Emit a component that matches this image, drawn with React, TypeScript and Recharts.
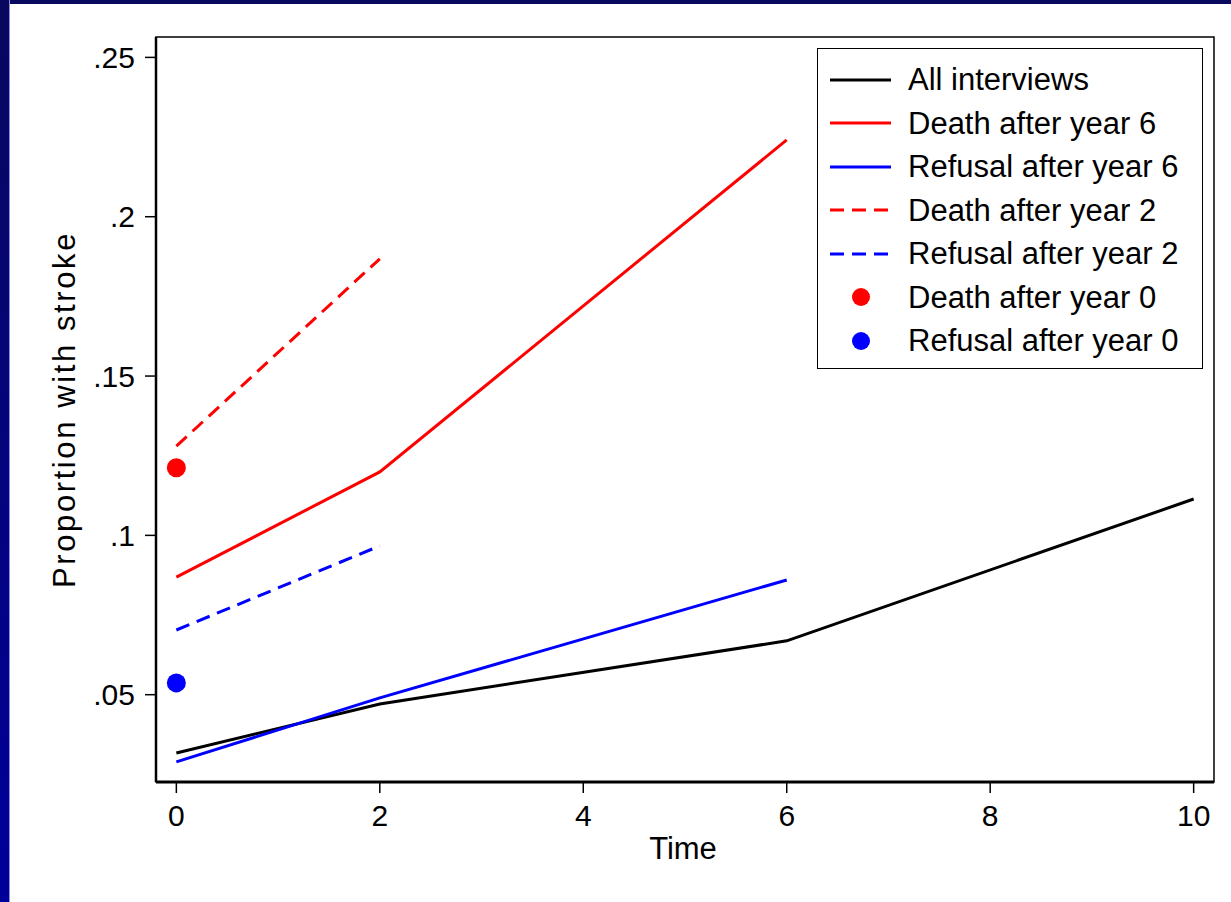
import React from "react";
import {
  ComposedChart,
  Line,
  XAxis,
  YAxis,
  ReferenceArea,
  Label,
} from "recharts";

const times = [0, 2, 6, 10];
const allInterviews = [0.0317, 0.0471, 0.0669, 0.1114];
const deathYear6 = [0.0869, 0.1199, 0.2241, null];
const refusalYear6 = [0.0289, 0.049, 0.086, null];
const deathYear2 = [0.128, 0.1868, null, null];
const refusalYear2 = [0.0703, 0.0967, null, null];
const deathYear0 = [0.1212, null, null, null];
const refusalYear0 = [0.0537, null, null, null];

const xTicks = [0, 2, 4, 6, 8, 10];
const yTicks = [0.05, 0.1, 0.15, 0.2, 0.25];
const xDomain: [number, number] = [-0.2, 10.2];
const yDomain: [number, number] = [0.0226, 0.2564];

const legendItems = [
  { label: "All interviews", color: "#000000", kind: "line" },
  { label: "Death after year 6", color: "#ff0000", kind: "line" },
  { label: "Refusal after year 6", color: "#0000ff", kind: "line" },
  { label: "Death after year 2", color: "#ff0000", kind: "dash" },
  { label: "Refusal after year 2", color: "#0000ff", kind: "dash" },
  { label: "Death after year 0", color: "#ff0000", kind: "dot" },
  { label: "Refusal after year 0", color: "#0000ff", kind: "dot" },
];

const data = times.map((t, i) => ({
  time: t,
  all: allInterviews[i],
  d6: deathYear6[i],
  r6: refusalYear6[i],
  d2: deathYear2[i],
  r2: refusalYear2[i],
  d0: deathYear0[i],
  r0: refusalYear0[i],
}));

const FONT = '"Liberation Sans", Arial, Helvetica, sans-serif';
const DASH = "14 8";

const fmtY = (v: number) => {
  const s = String(Number(v.toFixed(3)));
  return s.startsWith("0") ? s.slice(1) : s;
};

const LegendBox = () => (
  <div
    style={{
      position: "absolute",
      left: 817,
      top: 48,
      width: 386,
      height: 321,
      boxSizing: "border-box",
      border: "1.5px solid #000",
      background: "#fff",
      paddingTop: 9,
      fontFamily: FONT,
      fontSize: 31,
      color: "#000",
    }}
  >
    {legendItems.map((it) => (
      <div
        key={it.label}
        style={{ height: 43.5, display: "flex", alignItems: "center" }}
      >
        <svg width={90} height={30} style={{ flex: "none" }}>
          {it.kind === "dot" ? (
            <circle cx={43} cy={15} r={9} fill={it.color} />
          ) : (
            <line
              x1={12}
              x2={73}
              y1={15}
              y2={15}
              stroke={it.color}
              strokeWidth={3}
              strokeDasharray={it.kind === "dash" ? DASH : undefined}
            />
          )}
        </svg>
        <span style={{ whiteSpace: "nowrap", lineHeight: 1 }}>{it.label}</span>
      </div>
    ))}
  </div>
);

export default function App() {
  return (
    <div
      style={{
        position: "absolute",
        left: 0,
        top: 0,
        width: 1231,
        height: 902,
        background: "#fff",
        overflow: "hidden",
      }}
    >
      <div
        style={{
          position: "absolute",
          left: 0,
          top: 0,
          width: 1231,
          height: 4,
          background: "#08085e",
        }}
      />
      <div
        style={{
          position: "absolute",
          left: 0,
          top: 0,
          width: 9,
          height: 902,
          background: "linear-gradient(#08085e, #00009a)",
          borderRight: "1px solid #8c8ce0",
        }}
      />
      <div style={{ position: "absolute", left: 0, top: 0 }}>
        <ComposedChart
          width={1231}
          height={902}
          data={data}
          margin={{ top: 37, right: 17, bottom: 0, left: 0 }}
          style={{ fontFamily: FONT }}
        >
          <ReferenceArea
            x1={xDomain[0]}
            x2={xDomain[1]}
            y1={yDomain[0]}
            y2={yDomain[1]}
            fill="none"
            stroke="#000"
            strokeWidth={1.5}
            ifOverflow="visible"
          />
          <XAxis
            dataKey="time"
            type="number"
            domain={xDomain}
            ticks={xTicks}
            allowDataOverflow
            height={120}
            tickSize={11}
            tickMargin={12}
            axisLine={{ stroke: "#000", strokeWidth: 3 }}
            tickLine={{ stroke: "#000", strokeWidth: 1.5 }}
            tick={{ fill: "#000", fontSize: 30, fontFamily: FONT }}
          >
            <Label
              content={({ viewBox }: any) => (
                <text
                  x={viewBox.x + viewBox.width / 2 - 2}
                  y={viewBox.y + 66}
                  textAnchor="middle"
                  dominantBaseline="central"
                  fontSize={31}
                  fontFamily={FONT}
                  fill="#000"
                >
                  Time
                </text>
              )}
            />
          </XAxis>
          <YAxis
            type="number"
            domain={yDomain}
            ticks={yTicks}
            allowDataOverflow
            width={156}
            tickSize={11}
            tickMargin={10}
            tickFormatter={fmtY}
            axisLine={{ stroke: "#000", strokeWidth: 2.5 }}
            tickLine={{ stroke: "#000", strokeWidth: 1.5 }}
            tick={{ fill: "#000", fontSize: 30, fontFamily: FONT }}
          >
            <Label
              content={({ viewBox }: any) => {
                const cx = viewBox.x + 64;
                const cy = viewBox.y + viewBox.height / 2;
                return (
                  <text
                    x={cx}
                    y={cy}
                    transform={`rotate(-90 ${cx} ${cy})`}
                    textAnchor="middle"
                    dominantBaseline="central"
                    fontSize={31}
                    fontFamily={FONT}
                    letterSpacing={2.6}
                    fill="#000"
                  >
                    Proportion with stroke
                  </text>
                );
              }}
            />
          </YAxis>
          <Line dataKey="all" stroke="#000" strokeWidth={3} dot={false} isAnimationActive={false} />
          <Line dataKey="d6" stroke="#ff0000" strokeWidth={3} dot={false} isAnimationActive={false} />
          <Line dataKey="r6" stroke="#0000ff" strokeWidth={3} dot={false} isAnimationActive={false} />
          <Line dataKey="d2" stroke="#ff0000" strokeWidth={3} strokeDasharray={DASH} dot={false} isAnimationActive={false} />
          <Line dataKey="r2" stroke="#0000ff" strokeWidth={3} strokeDasharray={DASH} dot={false} isAnimationActive={false} />
          <Line dataKey="d0" stroke="none" dot={{ r: 9.5, fill: "#ff0000", stroke: "none" }} isAnimationActive={false} />
          <Line dataKey="r0" stroke="none" dot={{ r: 9.5, fill: "#0000ff", stroke: "none" }} isAnimationActive={false} />
        </ComposedChart>
      </div>
      <LegendBox />
    </div>
  );
}
